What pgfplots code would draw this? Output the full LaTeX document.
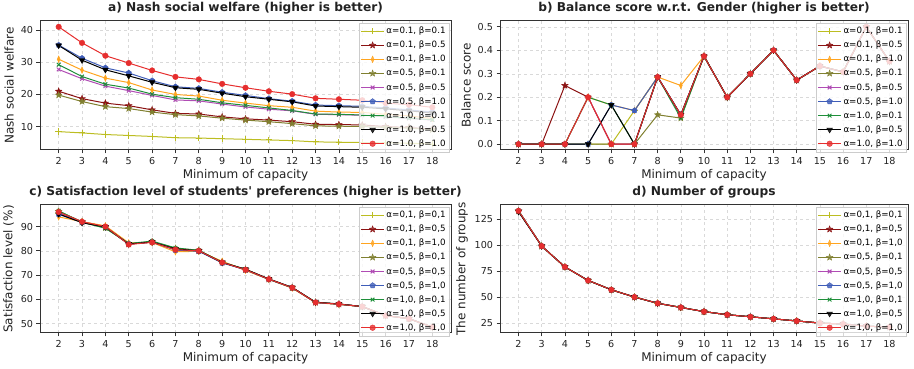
\documentclass[border=0pt]{standalone}
\usepackage{fontspec}
\setmainfont{DejaVu Sans}
\usepackage{pgfplots}
\usepackage{pgfplotstable}
\pgfplotsset{compat=1.18}
\definecolor{cA}{HTML}{BCBD22}
\definecolor{cB}{HTML}{8B1212}
\definecolor{cC}{HTML}{FFA41F}
\definecolor{cD}{HTML}{808030}
\definecolor{cE}{HTML}{B04CB4}
\definecolor{cF}{HTML}{3F5DB8}
\definecolor{cG}{HTML}{1F8F3A}
\definecolor{cH}{HTML}{000000}
\definecolor{cI}{HTML}{E62E2E}
\definecolor{fr}{HTML}{333333}
\definecolor{tx}{HTML}{222222}

\pgfdeclareplotmark{fstar}{%
  \pgfpathmoveto{\pgfpointpolar{90}{\pgfplotmarksize}}%
  \pgfpathlineto{\pgfpointpolar{126}{0.42\pgfplotmarksize}}%
  \pgfpathlineto{\pgfpointpolar{162}{\pgfplotmarksize}}%
  \pgfpathlineto{\pgfpointpolar{198}{0.42\pgfplotmarksize}}%
  \pgfpathlineto{\pgfpointpolar{234}{\pgfplotmarksize}}%
  \pgfpathlineto{\pgfpointpolar{270}{0.42\pgfplotmarksize}}%
  \pgfpathlineto{\pgfpointpolar{306}{\pgfplotmarksize}}%
  \pgfpathlineto{\pgfpointpolar{342}{0.42\pgfplotmarksize}}%
  \pgfpathlineto{\pgfpointpolar{18}{\pgfplotmarksize}}%
  \pgfpathlineto{\pgfpointpolar{54}{0.42\pgfplotmarksize}}%
  \pgfpathclose\pgfusepathqfillstroke}

\pgfplotsset{
  panel/.style={
    scale only axis, anchor=south west,
    xmin=1.2, xmax=18.8, xtick={2,...,18},
    tick align=outside, tick pos=left,
    major tick length=3.5pt,
    axis line style={color=fr, line width=1pt},
    every tick/.style={color=fr, line width=0.8pt},
    grid=major, major grid style={dashed, color=gray!30, line width=0.5pt},
    tick label style={font=\fontsize{9.6}{11}\selectfont, color=tx},
    label style={font=\fontsize{12}{14}\selectfont, color=tx},
    title style={font=\bfseries\fontsize{12.2}{15}\selectfont, color=tx, yshift=-3pt},
    xlabel={Minimum of capacity},
    xlabel style={yshift=2pt},
    legend style={at={(0.997,0.985)}, anchor=north east,
      font=\fontsize{8.7}{10}\selectfont, fill=white, fill opacity=0.8,
      text opacity=1, draw=gray!40, row sep=1.9pt, inner sep=2pt},
    legend cell align=left,
    legend image code/.code={\draw[mark repeat=2,mark phase=2,##1] plot coordinates {(0cm,0cm) (0.4cm,0cm) (0.8cm,0cm)};},
    /pgf/number format/assume math mode=true,
    every axis plot/.append style={line width=1pt},
  },
  sA/.style={color=cA, mark=+, mark size=3.2pt},
  sB/.style={color=cB, mark=fstar, mark size=3.4pt, mark options={line width=0.4pt}},
  sC/.style={color=cC, mark=diamond*, mark size=3.3pt, mark options={xscale=0.6, line width=0.4pt}},
  sD/.style={color=cD, mark=fstar, mark size=3.4pt, mark options={line width=0.4pt}},
  sE/.style={color=cE, mark=x, mark size=2.6pt},
  sF/.style={color=cF, mark=pentagon*, mark size=2.9pt, mark options={line width=0.4pt}},
  sG/.style={color=cG, mark=x, mark size=2.6pt},
  sH/.style={color=cH, mark=triangle*, mark size=3.3pt, mark options={rotate=180, line width=0.4pt}},
  sI/.style={color=cI, mark=*, mark size=2.8pt, mark options={line width=0.4pt}},
}

\newcommand{\allplots}[2]{%
  \addplot[sA] table[x=x,y=s1]{#1}; \addlegendentry{α=0#21, β=0#21}
  \addplot[sB] table[x=x,y=s2]{#1}; \addlegendentry{α=0#21, β=0#25}
  \addplot[sC] table[x=x,y=s3]{#1}; \addlegendentry{α=0#21, β=1#20}
  \addplot[sD] table[x=x,y=s4]{#1}; \addlegendentry{α=0#25, β=0#21}
  \addplot[sE] table[x=x,y=s5]{#1}; \addlegendentry{α=0#25, β=0#25}
  \addplot[sF] table[x=x,y=s6]{#1}; \addlegendentry{α=0#25, β=1#20}
  \addplot[sG] table[x=x,y=s7]{#1}; \addlegendentry{α=1#20, β=0#21}
  \addplot[sH] table[x=x,y=s8]{#1}; \addlegendentry{α=1#20, β=0#25}
  \addplot[sI] table[x=x,y=s9]{#1}; \addlegendentry{α=1#20, β=1#20}
}

\pgfplotstableread{
x s1 s2 s3 s4 s5 s6 s7 s8 s9
2 8.4 21.0 31.0 19.8 27.8 35.4 29.3 35.3 41.1
3 8.0 18.7 27.6 17.8 24.9 31.3 25.6 30.7 36.1
4 7.5 17.3 25.1 16.2 22.6 28.3 23.2 27.7 32.1
5 7.2 16.5 23.7 15.6 21.2 26.7 22.0 25.8 29.8
6 6.9 15.2 21.4 14.5 19.7 24.3 20.1 23.8 27.5
7 6.5 14.1 20.0 13.7 18.3 22.4 19.0 22.1 25.5
8 6.4 13.9 19.5 13.3 18.0 21.9 18.5 21.6 24.7
9 6.2 13.0 18.2 12.6 17.0 20.7 17.4 20.4 23.3
10 6.0 12.4 17.3 12.0 16.1 19.7 16.6 19.3 22.1
11 5.8 12.0 16.5 11.5 15.4 18.7 15.8 18.5 21.0
12 5.6 11.5 16.0 10.9 14.9 17.9 15.0 17.7 20.1
13 5.2 10.7 14.8 10.2 13.8 16.7 13.9 16.4 18.8
14 5.1 10.6 14.5 10.1 13.7 16.5 13.8 16.2 18.5
15 5.0 10.5 14.4 10.0 13.5 16.3 13.6 16.0 18.2
16 4.9 10.0 13.8 9.7 13.0 15.8 13.1 15.5 17.3
17 4.8 9.7 13.3 9.5 12.5 15.2 12.6 14.9 16.8
18 4.5 9.2 12.5 9.0 12.0 14.5 12.1 14.2 16.0
}\tabA

\pgfplotstableread{
x s1 s2 s3 s4 s5 s6 s7 s8 s9
2 0 0 0 0 0 0 0 0 0
3 0 0 0 0 0 0 0 0 0
4 0 0.25 0 0 0 0 0 0 0
5 0 0.2 0.2 0 0.2 0 0.2 0 0.2
6 0 0 0.167 0 0 0.167 0.167 0.167 0
7 0.143 0 0.143 0 0 0.143 0 0 0
8 0.286 0.286 0.286 0.125 0.286 0.286 0.286 0.286 0.286
9 0.125 0.125 0.25 0.111 0.125 0.125 0.111 0.125 0.125
10 0.375 0.375 0.375 0.375 0.375 0.375 0.375 0.375 0.375
11 0.2 0.2 0.2 0.2 0.2 0.2 0.2 0.2 0.2
12 0.3 0.3 0.3 0.3 0.3 0.3 0.3 0.3 0.3
13 0.4 0.4 0.4 0.4 0.4 0.4 0.4 0.4 0.4
14 0.273 0.273 0.273 0.273 0.273 0.273 0.273 0.273 0.273
15 0.333 0.333 0.333 0.333 0.333 0.333 0.333 0.333 0.333
16 0.308 0.308 0.308 0.308 0.308 0.308 0.308 0.308 0.308
17 0.5 0.5 0.5 0.5 0.5 0.5 0.5 0.5 0.5
18 0.353 0.353 0.353 0.353 0.353 0.353 0.353 0.353 0.353
}\tabB

\pgfplotstableread{
x s1 s2 s3 s4 s5 s6 s7 s8 s9
2 95.5 96.2 94.0 96.3 95.5 95.0 96.5 95.2 96.0
3 92.0 92.0 92.0 91.8 91.8 91.8 91.8 91.6 92.0
4 90.0 90.0 90.3 89.5 89.8 89.8 89.3 89.8 90.0
5 83.0 82.8 83.3 82.8 82.8 82.8 83.0 82.8 82.6
6 83.6 83.6 83.4 83.8 83.6 83.6 84.0 83.6 83.5
7 80.5 80.6 79.6 81.0 80.5 80.3 81.2 80.8 80.5
8 80.0 80.0 79.8 80.2 80.0 79.8 80.2 80.0 80.0
9 75.5 75.3 75.7 75.3 75.2 75.0 75.2 75.2 75.2
10 72.2 72.2 71.9 72.4 72.2 72.2 72.3 72.4 72.2
11 68.3 68.3 68.2 68.3 68.3 68.2 68.3 68.4 68.3
12 64.8 64.8 64.6 64.8 64.8 64.8 64.8 64.9 64.8
13 58.7 58.7 58.6 58.8 58.7 58.7 58.8 58.8 58.7
14 58.0 58.0 57.9 58.0 58.0 58.0 58.0 58.1 58.0
15 57.0 57.0 57.0 57.0 57.0 57.0 57.0 57.0 57.0
16 53.3 53.3 53.3 53.3 53.3 53.3 53.3 53.3 53.3
17 52.0 52.0 52.0 52.0 52.0 52.0 52.0 52.0 52.0
18 48.5 48.5 48.5 48.5 48.5 48.5 48.5 48.5 48.5
}\tabC

\pgfplotstableread{
x s1 s2 s3 s4 s5 s6 s7 s8 s9
2 133 133 133 133 133 133 133 132 133
3 99 99 99 99 99 99 99 99 99
4 79 79 79 79 79 79 79 79 79
5 66 66 66 66 66 66 66 66 66
6 57 57 57 57 57 57 57 57 57
7 50 50 50 50 50 50 50 50 50
8 44 44 44 44 44 44 44 44 44
9 40 40 40 40 40 40 40 40 40
10 36 36 36 36 36 36 36 36 36
11 33 33 33 33 33 33 33 33 33
12 31 31 31 31 31 31 31 31 31
13 29 29 29 29 29 29 29 29 29
14 27 27 27 27 27 27 27 27 27
15 25 25 25 25 25 25 25 25 25
16 24 24 24 24 24 24 24 24 24
17 22 22 22 22 22 22 22 22 22
18 21 21 21 21 21 21 21 21 21
}\tabD

\begin{document}
\begin{tikzpicture}
\useasboundingbox (0,0) rectangle (914pt,369pt);
\begin{axis}[panel, at={(40pt,219pt)}, width=411pt, height=129pt,
  ymin=2.67, ymax=42.93, ytick={10,20,30,40},
  title={a) Nash social welfare (higher is better)}, ylabel={Nash social welfare}]
\allplots{\tabA}{.}
\end{axis}
\begin{axis}[panel, at={(500pt,219pt)}, width=408pt, height=129pt,
  ymin=-0.025, ymax=0.525, ytick={0,0.1,0.2,0.3,0.4,0.5},
  yticklabel style={/pgf/number format/.cd, fixed, fixed zerofill, precision=1},
  title={b) Balance score w.r.t. Gender (higher is better)}, ylabel={Balance score}]
\allplots{\tabB}{.}
\end{axis}
\begin{axis}[panel, at={(40pt,36pt)}, width=411pt, height=128pt,
  ymin=46.1, ymax=98.9, ytick={50,60,70,80,90},
  title={c) Satisfaction level of students\textquotesingle\ preferences (higher is better)}, ylabel={Satisfaction level (\%)}]
\allplots{\tabC}{,}
\end{axis}
\begin{axis}[panel, at={(500pt,36pt)}, width=408pt, height=128pt,
  ymin=15.4, ymax=138.6, ytick={25,50,75,100,125},
  title={d) Number of groups}, ylabel={The number of groups}]
\allplots{\tabD}{,}
\end{axis}
\end{tikzpicture}
\end{document}
